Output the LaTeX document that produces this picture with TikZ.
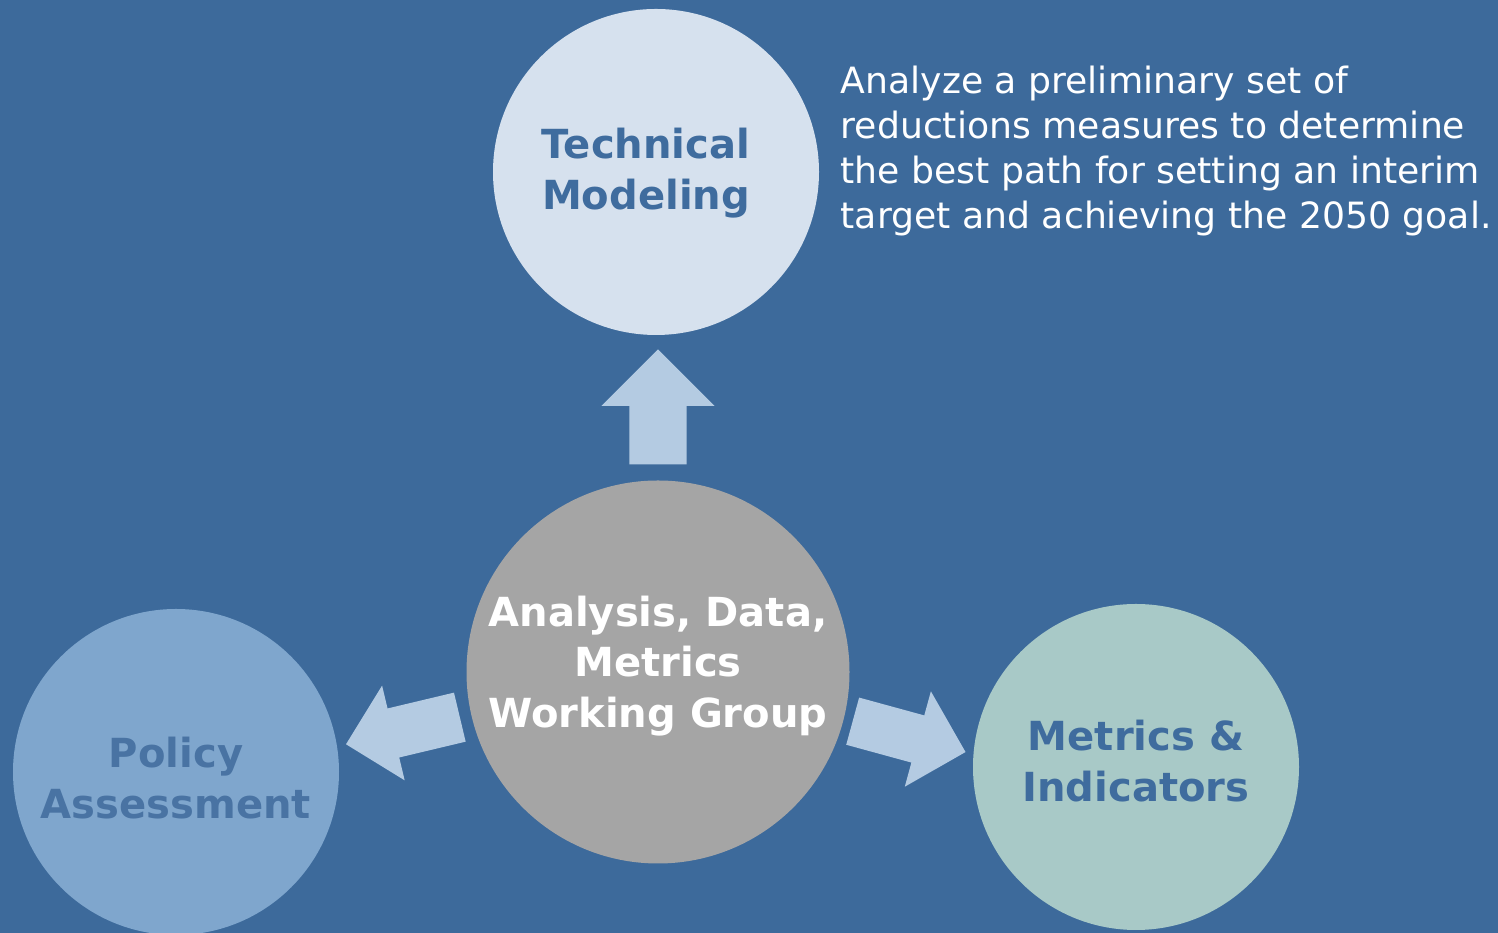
\documentclass[tikz,border=0pt]{standalone}
\usepackage{fontspec}
\setmainfont{DejaVu Sans}
\usetikzlibrary{shapes.arrows}
\definecolor{bgblue}{HTML}{3D6A9B}
\definecolor{techfill}{HTML}{D6E1EE}
\definecolor{policyfill}{HTML}{7FA6CD}
\definecolor{metricfill}{HTML}{A8C9C7}
\definecolor{groupfill}{HTML}{A5A5A5}
\definecolor{arrowfill}{HTML}{B4CBE2}
\definecolor{labelblue}{HTML}{3F6C9E}
\tikzset{
  bubble/.style={circle,inner sep=0pt,minimum size=3.26cm},
  bubbletext/.style={align=center,inner sep=0pt,text=labelblue,
    font=\fontsize{11.4}{14.4}\selectfont\bfseries},
  blockarrow/.style={single arrow,fill=arrowfill,inner xsep=0pt,anchor=tail,
    minimum height=1.17cm,single arrow tip angle=90}
}
\begin{document}
\begin{tikzpicture}
\fill[bgblue] (0,0) rectangle (14.98,9.33);
\useasboundingbox (0,0) rectangle (14.98,9.33);
% circles
\node[bubble,fill=techfill] (tech) at (6.56,7.61) {};
\node[bubble,fill=groupfill,minimum size=3.83cm] (group) at (6.58,2.61) {};
\node[bubble,fill=policyfill] (policy) at (1.76,1.61) {};
\node[bubble,fill=metricfill] (metric) at (11.36,1.66) {};
% labels
\node[bubbletext] (techlbl) at ([xshift=-0.1cm,yshift=-0.01cm]tech.center) {Technical\\Modeling};
\node[bubbletext,text=white] (grouplbl) at ([yshift=0.06cm]group.center) {Analysis, Data,\\Metrics\\Working Group};
\node[bubbletext,text=labelblue!95!white] (policylbl) at ([yshift=-0.06cm]policy.center) {Policy\\Assessment};
\node[bubbletext] (metriclbl) at ([yshift=0.06cm]metric.center) {Metrics \&\\Indicators};
% arrows
\node[blockarrow,minimum height=1.15cm,minimum width=1.12cm,inner ysep=0.28cm,single arrow head extend=0.28cm,rotate=90] (up) at (6.58,4.68) {};
\node[blockarrow,minimum width=0.96cm,inner ysep=0.245cm,single arrow head extend=0.235cm,rotate=193.4] (left) at (4.605,2.16) {};
\node[blockarrow,minimum width=0.975cm,inner ysep=0.2375cm,single arrow head extend=0.25cm,rotate=-15.3] (right) at (8.52,2.12) {};
% note
\node[anchor=north west,align=left,text=white,inner sep=0pt,
  font=\fontsize{10.3}{12.8}\selectfont] (note) at (8.4,8.68)
  {Analyze a preliminary set of\\reductions measures to determine\\the best path for setting an interim\\target and achieving the 2050 goal.};
\end{tikzpicture}
\end{document}
